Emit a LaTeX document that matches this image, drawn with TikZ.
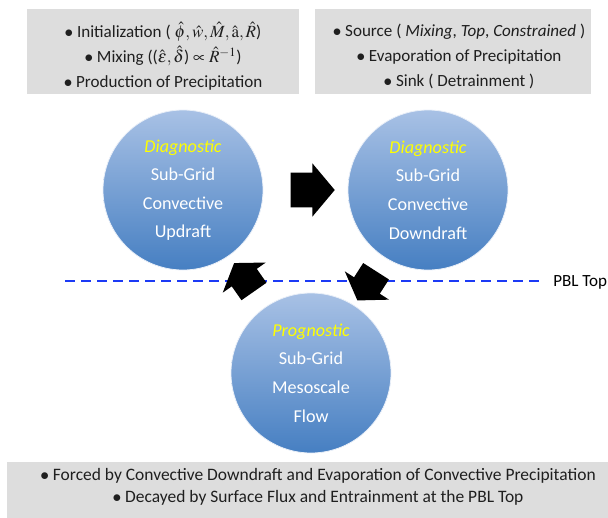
\documentclass[tikz,border=0pt]{standalone}
\usepackage{mathptmx}
\usepackage{fontspec}
\setmainfont{Carlito}
\usetikzlibrary{shapes.arrows}

\definecolor{panelgray}{RGB}{221,221,221}
\definecolor{bubbletop}{RGB}{168,193,229}
\definecolor{bubblebot}{RGB}{70,127,194}
\definecolor{pblblue}{RGB}{28,58,245}
\definecolor{tagyellow}{RGB}{255,255,0}

\newcommand{\modetag}[1]{{\color{tagyellow}\itshape #1}}

\begin{document}
\begin{tikzpicture}[
  x=0.75pt, y=-0.75pt,
  every node/.style={font=\fontsize{12.8}{18.75}\selectfont},
  panel/.style={fill=panelgray, draw=none, inner sep=0pt},
  notes/.style={align=center, text=black!88, inner sep=0pt},
  bubble/.style={
    circle,
    minimum size=120pt,
    inner sep=0pt,
    top color=bubbletop,
    bottom color=bubblebot,
    draw=white!75!bubbletop,
    line width=0.6pt,
    text=white,
    align=center,
    font=\fontsize{13.6}{21.4}\selectfont
  },
  pointer/.style={
    single arrow,
    fill=black,
    draw=none,
    inner xsep=0pt,
    inner ysep=12.75pt,
    minimum height=33pt,
    single arrow head extend=7.1pt,
    single arrow tip angle=100,
    sloped,
    allow upside down
  },
  stubby/.style={
    inner ysep=11.25pt,
    minimum height=26pt,
    single arrow head extend=8.25pt,
    single arrow tip angle=112
  },
  pbl/.style={draw=pblblue, line width=1.5pt, dash pattern=on 7.5pt off 4.5pt},
]
\useasboundingbox (0,0) rectangle (608,518);

% Note panels.
\node[panel, minimum width=204pt, minimum height=63.75pt] (upnotes) at (163,51.5) {};
\node[panel, minimum width=207pt, minimum height=63.75pt] (downnotes) at (453,51.5) {};
\node[panel, minimum width=450.75pt, minimum height=42pt] (mesonotes) at (307.5,490) {};

\node[notes] (uptext) at (163,56) {%
  $\bullet$ Initialization ( $\hat{\phi},\hat{w},\hat{M},\hat{\mathrm{a}},\hat{R}$)\\
  $\bullet$ Mixing (($\hat{\varepsilon},\hat{\delta}$) $\propto$ $\hat{R}^{-1}$)\\
  $\bullet$ Production of Precipitation};
\node[notes] (downtext) at (459,56) {%
  $\bullet$ Source ( \textit{Mixing}, \textit{Top}, \textit{Constrained} )\\
  $\bullet$ Evaporation of Precipitation\\
  $\bullet$ Sink ( Detrainment )};
\node[notes, font=\fontsize{13.1}{16.5}\selectfont] (mesotext) at (318,487) {%
  $\bullet$ Forced by Convective Downdraft and Evaporation of Convective Precipitation\\
  $\bullet$ Decayed by Surface Flux and Entrainment at the PBL Top};

% PBL top.
\coordinate (pblwest) at (65,281);
\coordinate (pbleast) at (543,281);
\draw[pbl] (pblwest) -- (pbleast);
\node[anchor=west, inner sep=0pt] (pbllabel) at (553,282) {PBL Top};

% Drafts and flow.
\node[bubble] (updraft) at (183,190) {\modetag{Diagnostic}\\Sub-Grid\\Convective\\Updraft};
\node[bubble] (downdraft) at (428,190) {\modetag{Diagnostic}\\Sub-Grid\\Convective\\Downdraft};
\node[bubble] (mesoflow) at (311,373) {\modetag{Prognostic}\\Sub-Grid\\Mesoscale\\Flow};

\path (updraft) -- node[pointer] (toDown) {} (downdraft);
\path (downdraft) -- node[pointer, stubby] (toMeso) {} (mesoflow);
\path (mesoflow) -- node[pointer, stubby] (toUp) {} (updraft);

\end{tikzpicture}
\end{document}
